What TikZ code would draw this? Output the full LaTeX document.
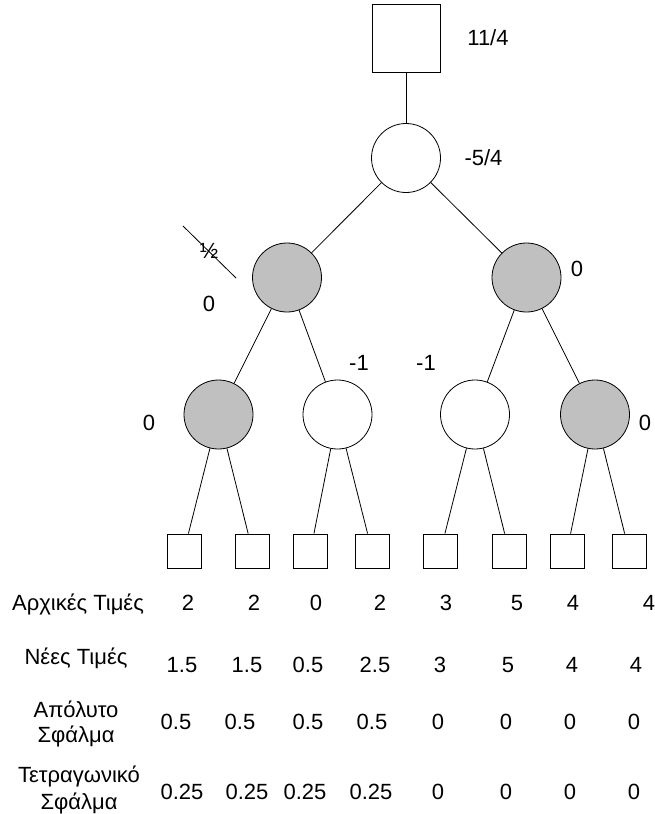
\documentclass[tikz,border=0pt]{standalone}
\usepackage{fontspec}
\setmainfont{Liberation Sans}
\definecolor{nodegrey}{RGB}{192,192,192}
\begin{document}
\begin{tikzpicture}[x=1pt,y=-1pt,
  edge/.style={draw=black, line width=0.8pt},
  decision/.style={draw, line width=0.8pt, minimum size=68pt, inner sep=0pt, fill=white},
  leaf/.style={draw, line width=0.8pt, minimum size=34pt, inner sep=0pt, fill=white},
  chance/.style={circle, draw, line width=0.8pt, minimum size=69pt, inner sep=0pt, fill=white},
  shaded/.style={chance, fill=nodegrey},
  txt/.style={font=\fontsize{22}{26}\selectfont, inner sep=0pt, text height=15.7pt, text depth=0pt}]
\useasboundingbox (0,0) rectangle (654,814);

% tree nodes
\node[decision] (top) at (406,38) {};
\node[chance] (root) at (406,158) {};
\node[shaded] (l) at (287,277.5) {};
\node[shaded] (r) at (526.5,277.5) {};
\node[shaded] (ll) at (218.5,414.5) {};
\node[chance] (lr) at (337.5,414.5) {};
\node[chance] (rl) at (475,414.5) {};
\node[shaded] (rr) at (595,414.5) {};

% leaves
\foreach \x [count=\i] in {184,252.5,310.5,372,440.5,509,567,629}
  \node[leaf] (leaf\i) at (\x,551) {};

% connectors
\draw[edge] (top) -- (root);
\draw[edge] (root) -- (l);
\draw[edge] (root) -- (r);
\draw[edge] (l) -- (ll);
\draw[edge] (l) -- (lr);
\draw[edge] (r) -- (rl);
\draw[edge] (r) -- (rr);
\draw[edge] (ll) -- (leaf1);
\draw[edge] (ll) -- (leaf2);
\draw[edge] (lr) -- (leaf3);
\draw[edge] (lr) -- (leaf4);
\draw[edge] (rl) -- (leaf5);
\draw[edge] (rl) -- (leaf6);
\draw[edge] (rr) -- (leaf7);
\draw[edge] (rr) -- (leaf8);

% node values
\node[txt] (v-top) at (488,38) {11/4};
\node[txt] (v-root) at (483.5,158) {-5/4};
\node[txt] (v-r) at (577,269) {0};
\node[txt] (v-l) at (209,304) {0};
\node[txt] (v-half) at (209,251) {½};
\coordinate (cut-a) at (183,226);
\coordinate (cut-b) at (236,278);
\draw[edge] (cut-a) -- (cut-b);
\node[txt] (v-ll) at (149,423) {0};
\node[txt] (v-lr) at (359,363) {-1};
\node[txt] (v-rl) at (426,363) {-1};
\node[txt] (v-rr) at (645,423) {0};

% table
\node[txt] (h1) at (78,603) {Αρχικές Τιμές};
\node[txt] (h2) at (76,657) {Νέες Τιμές};
\node[txt] (h3a) at (76,710) {Απόλυτο};
\node[txt] (h3b) at (76,735) {Σφάλμα};
\node[txt] (h4a) at (79,775) {Τετραγωνικό};
\node[txt] (h4b) at (79,802) {Σφάλμα};

\foreach \x/\t [count=\i] in {188/2,254/2,316/0,380/2,446/3,517/5,573/4,649/4}
  \node[txt] (a\i) at (\x,603) {\t};
\foreach \x/\t [count=\i] in {182/1.5,247/1.5,308/0.5,375/2.5,440/3,508/5,572/4,636/4}
  \node[txt] (n\i) at (\x,665) {\t};
\foreach \x/\t [count=\i] in {176/0.5,240/0.5,308/0.5,372/0.5,438/0,506/0,570/0,634/0}
  \node[txt] (e\i) at (\x,722) {\t};
\foreach \x/\t [count=\i] in {182/0.25,247/0.25,305/0.25,371/0.25,438/0,506/0,570/0,634/0}
  \node[txt] (s\i) at (\x,792) {\t};
\end{tikzpicture}
\end{document}
